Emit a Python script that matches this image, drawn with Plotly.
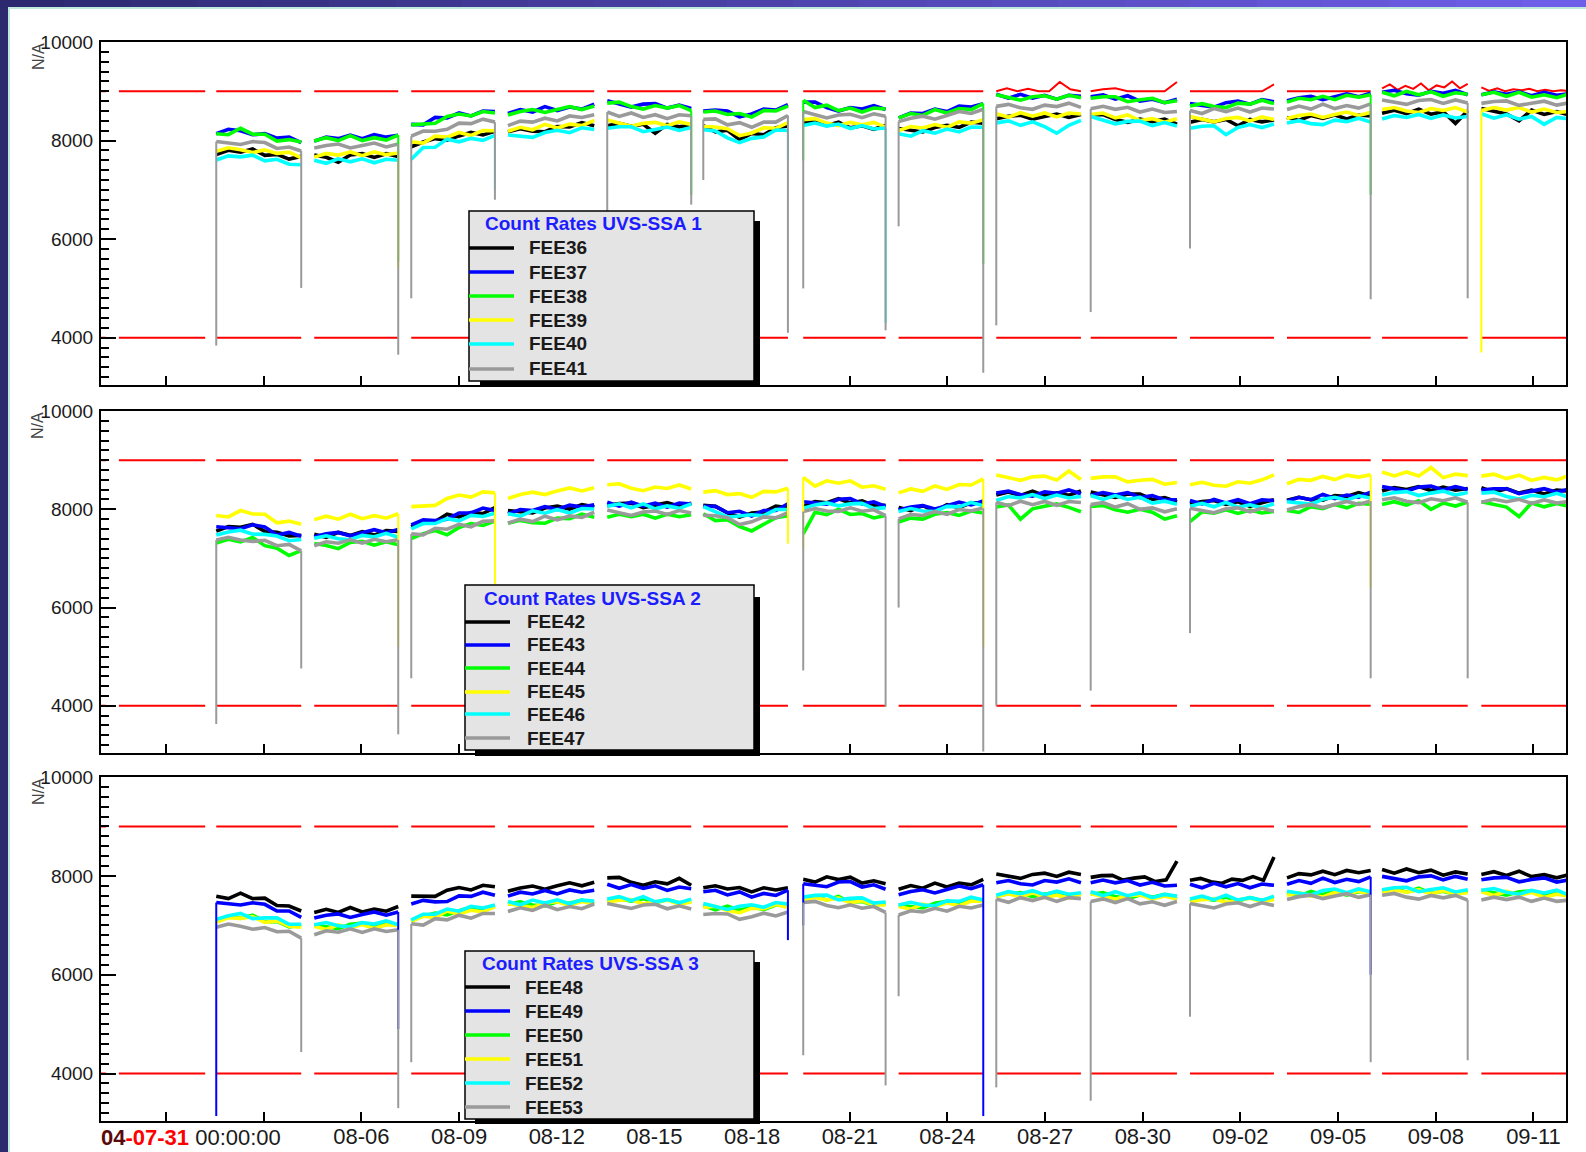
import numpy as np
import pandas as pd
import plotly.graph_objects as go

# ---------------- data ----------------
BASE = pd.Timestamp("2004-07-29 00:00:00")
X_START = "2004-07-29 00:00:00"
X_END = "2004-09-12 00:00:00"

# data taking segments (days after 2004-07-29)
SEG_START = [3.54, 6.55, 9.53, 12.50, 15.55, 18.50, 21.57, 24.50, 27.50, 30.40, 33.45, 36.43, 39.35, 42.40]
SEG_END = [6.15, 9.13, 12.10, 15.15, 18.13, 21.10, 24.10, 27.10, 30.10, 33.05, 36.03, 39.00, 41.98, 45.10]
LIMIT_START = [-2.45, 0.55] + SEG_START
LIMIT_END = [0.15, 3.20] + SEG_END

UPPER_LIMIT = 9000
LOWER_LIMIT = 4000
# limit trace of SSA 1 where it shows excursions (index into LIMIT segments)
SSA1_UPPER_EXCESS = {
    10: [9000, 9060, 9000, 9050, 9000, 9000, 9190, 9040, 9000],
    11: [9000, 9040, 9060, 9000, 9000, 9000, 9000, 9190],
    12: [9000, 9000, 9000, 9000, 9000, 9000, 9000, 9140],
    14: [9060, 9140, 9030, 9110, 9050, 9160, 9020, 9120, 9080, 9200, 9060, 9150],
    15: [9080, 9010, 9060, 9000, 9040, 9020, 9050, 9000, 9030, 9000, 9020, 9010],
}

TICK_DATES = ["2004-07-31", "2004-08-03", "2004-08-06", "2004-08-09", "2004-08-12", "2004-08-15",
              "2004-08-18", "2004-08-21", "2004-08-24", "2004-08-27", "2004-08-30", "2004-09-02",
              "2004-09-05", "2004-09-08", "2004-09-11"]
TICK_LABELS = ["", "", "08-06", "08-09", "08-12", "08-15", "08-18", "08-21", "08-24", "08-27",
               "08-30", "09-02", "09-05", "09-08", "09-11"]

SSA1_NAMES = ["FEE36", "FEE37", "FEE38", "FEE39", "FEE40", "FEE41"]
SSA2_NAMES = ["FEE42", "FEE43", "FEE44", "FEE45", "FEE46", "FEE47"]
SSA3_NAMES = ["FEE48", "FEE49", "FEE50", "FEE51", "FEE52", "FEE53"]
SSA_TITLES = ["Count Rates UVS-SSA 1", "Count Rates UVS-SSA 2", "Count Rates UVS-SSA 3"]

# ---- SSA 1 ----
FEE36 = [
    [7715, 7805, 7765, 7830, 7700, 7720, 7625, 7680],
    [7705, 7660, 7560, 7710, 7735, 7660, 7735, 7680],
    [7875, 7970, 8040, 8010, 8095, 8165, 8115, 8190],
    [8180, 8240, 8190, 8180, 8285, 8275, 8365, 8300],
    [8300, 8350, 8290, 8330, 8150, 8330, 8280, 8315],
    [8305, 8175, 8210, 8020, 8145, 8120, 8260, 8295],
    [8355, 8395, 8305, 8375, 8260, 8300, 8230, 8305],
    [8245, 8205, 8175, 8265, 8310, 8270, 8375, 8355],
    [8445, 8495, 8515, 8435, 8490, 8540, 8470, 8530],
    [8520, 8530, 8430, 8370, 8435, 8385, 8435, 8335],
    [8370, 8430, 8380, 8430, 8300, 8430, 8380, 8420],
    [8470, 8410, 8510, 8450, 8520, 8440, 8520, 8500],
    [8556, 8616, 8546, 8636, 8536, 8586, 8350, 8606],
    [8650, 8590, 8540, 8400, 8620, 8530, 8590, 8520],
]
FEE37 = [
    [8140, 8230, 8200, 8120, 8140, 8050, 8070, 7960],
    [7990, 8070, 8040, 8110, 8040, 8120, 8070, 8110],
    [8330, 8320, 8470, 8460, 8560, 8500, 8600, 8590],
    [8550, 8630, 8580, 8690, 8610, 8680, 8640, 8740],
    [8810, 8740, 8680, 8740, 8750, 8660, 8720, 8650],
    [8600, 8620, 8600, 8480, 8540, 8640, 8620, 8730],
    [8780, 8780, 8670, 8600, 8670, 8640, 8710, 8630],
    [8460, 8560, 8550, 8640, 8590, 8700, 8680, 8750],
    [8940, 8860, 8940, 8860, 8920, 8840, 8920, 8900],
    [8890, 8930, 8840, 8910, 8800, 8840, 8770, 8840],
    [8750, 8710, 8680, 8770, 8800, 8740, 8830, 8790],
    [8810, 8870, 8900, 8830, 8890, 8950, 8890, 8960],
    [8980, 9020, 8950, 8920, 9000, 8960, 9020, 8930],
    [8930, 8990, 8940, 8990, 8910, 8980, 8920, 8950],
]
FEE38 = [
    [8140, 8120, 8250, 8130, 8130, 7990, 8020, 7970],
    [7990, 8060, 8000, 8100, 8000, 8060, 8010, 8110],
    [8320, 8330, 8350, 8490, 8540, 8500, 8590, 8560],
    [8520, 8590, 8630, 8570, 8630, 8690, 8630, 8700],
    [8760, 8780, 8690, 8640, 8710, 8660, 8710, 8610],
    [8580, 8600, 8530, 8550, 8480, 8610, 8600, 8700],
    [8820, 8670, 8720, 8610, 8660, 8580, 8660, 8640],
    [8460, 8550, 8510, 8630, 8560, 8650, 8630, 8750],
    [8930, 8870, 8820, 8890, 8910, 8840, 8920, 8870],
    [8860, 8890, 8890, 8790, 8830, 8860, 8770, 8810],
    [8700, 8750, 8690, 8670, 8760, 8740, 8820, 8750],
    [8780, 8860, 8830, 8900, 8830, 8920, 8880, 8930],
    [8980, 8910, 9000, 8930, 8990, 8900, 8970, 8940],
    [8930, 8980, 8900, 8980, 8880, 8930, 8870, 8950],
]
FEE39 = [
    [7785, 7855, 7815, 7760, 7810, 7740, 7765, 7650],
    [7665, 7740, 7705, 7770, 7695, 7770, 7715, 7750],
    [7975, 7950, 8090, 8070, 8165, 8105, 8205, 8200],
    [8190, 8270, 8220, 8330, 8255, 8335, 8305, 8410],
    [8420, 8350, 8290, 8350, 8370, 8300, 8380, 8325],
    [8285, 8275, 8240, 8100, 8155, 8260, 8250, 8365],
    [8425, 8445, 8355, 8305, 8370, 8320, 8370, 8275],
    [8205, 8285, 8255, 8325, 8270, 8380, 8355, 8425],
    [8545, 8475, 8565, 8495, 8560, 8480, 8560, 8540],
    [8530, 8560, 8460, 8520, 8405, 8445, 8375, 8445],
    [8490, 8430, 8380, 8450, 8470, 8400, 8480, 8430],
    [8450, 8510, 8540, 8470, 8530, 8580, 8510, 8570],
    [8630, 8670, 8600, 8570, 8650, 8610, 8670, 8580],
    [8610, 8670, 8620, 8670, 8580, 8640, 8570, 8590],
]
FEE40 = [
    [7605, 7690, 7670, 7705, 7590, 7620, 7520, 7510],
    [7600, 7540, 7630, 7570, 7630, 7550, 7620, 7600],
    [7620, 7860, 7865, 8030, 7975, 8045, 8005, 8105],
    [8115, 8085, 8065, 8165, 8210, 8160, 8260, 8225],
    [8250, 8280, 8280, 8180, 8225, 8275, 8205, 8265],
    [8220, 8195, 8055, 7960, 8045, 8075, 8215, 8205],
    [8305, 8355, 8295, 8335, 8245, 8305, 8235, 8255],
    [8140, 8090, 8200, 8150, 8235, 8175, 8275, 8270],
    [8360, 8400, 8310, 8380, 8285, 8150, 8310, 8410],
    [8490, 8410, 8340, 8390, 8395, 8305, 8365, 8295],
    [8250, 8290, 8300, 8120, 8265, 8325, 8265, 8335],
    [8355, 8405, 8345, 8325, 8415, 8385, 8455, 8375],
    [8440, 8510, 8470, 8530, 8450, 8520, 8460, 8490],
    [8545, 8455, 8525, 8435, 8490, 8330, 8470, 8440],
]
FEE41 = [
    [7980, 7950, 7920, 7980, 7960, 7840, 7870, 7790],
    [7850, 7900, 7930, 7850, 7900, 7950, 7870, 7930],
    [8090, 8195, 8190, 8230, 8355, 8345, 8435, 8375],
    [8305, 8395, 8375, 8455, 8400, 8500, 8470, 8525],
    [8580, 8490, 8560, 8470, 8525, 8445, 8525, 8505],
    [8430, 8440, 8320, 8365, 8270, 8375, 8375, 8510],
    [8590, 8520, 8460, 8520, 8535, 8465, 8545, 8495],
    [8385, 8455, 8495, 8435, 8510, 8590, 8550, 8635],
    [8695, 8735, 8665, 8635, 8720, 8690, 8760, 8675],
    [8645, 8695, 8635, 8675, 8580, 8640, 8570, 8590],
    [8610, 8550, 8650, 8590, 8660, 8580, 8660, 8640],
    [8630, 8700, 8640, 8740, 8650, 8710, 8660, 8745],
    [8825, 8775, 8735, 8815, 8835, 8755, 8825, 8765],
    [8755, 8795, 8805, 8715, 8760, 8800, 8720, 8770],
]
# (series, segment, side, value) : single low readings at segment edges
SSA1_DROPS = [
    ("FEE41", 0, "s", 3840), ("FEE41", 0, "e", 5010), ("FEE41", 1, "e", 3655),
    ("FEE39", 1, "e", 5400), ("FEE38", 1, "e", 5550), ("FEE41", 2, "s", 4800),
    ("FEE41", 2, "e", 6800), ("FEE40", 2, "e", 7000), ("FEE41", 4, "s", 6570),
    ("FEE41", 4, "e", 6700), ("FEE38", 4, "e", 6900), ("FEE41", 5, "s", 7200),
    ("FEE41", 5, "e", 4100), ("FEE40", 5, "e", 7600), ("FEE41", 6, "s", 5000),
    ("FEE38", 6, "s", 7600), ("FEE41", 6, "e", 4150), ("FEE40", 6, "e", 4300),
    ("FEE41", 7, "s", 6260), ("FEE41", 7, "e", 3290), ("FEE38", 7, "e", 5500),
    ("FEE41", 8, "s", 4250), ("FEE41", 9, "s", 4520), ("FEE41", 10, "s", 5810),
    ("FEE41", 11, "e", 4780), ("FEE38", 11, "e", 6900), ("FEE41", 12, "e", 4800),
    ("FEE39", 13, "s", 3700),
]

# ---- SSA 2 ----
FEE42 = [
    [7555, 7650, 7635, 7695, 7550, 7535, 7460, 7470],
    [7490, 7430, 7530, 7470, 7545, 7475, 7565, 7550],
    [7645, 7765, 7750, 7900, 7845, 7935, 7915, 8035],
    [7975, 7945, 7925, 8025, 8065, 8005, 8095, 8050],
    [8075, 8115, 8125, 8035, 8085, 8135, 8065, 8125],
    [8080, 8060, 7930, 7840, 7925, 7945, 8065, 8030],
    [8065, 8155, 8135, 8215, 8130, 8170, 8080, 8080],
    [8035, 7975, 8075, 7960, 8095, 8035, 8130, 8130],
    [8290, 8350, 8280, 8370, 8275, 8335, 8285, 8375],
    [8350, 8290, 8240, 8310, 8310, 8200, 8240, 8155],
    [8110, 8160, 8180, 8100, 8155, 8060, 8135, 8195],
    [8185, 8245, 8195, 8185, 8280, 8260, 8340, 8270],
    [8372, 8442, 8402, 8462, 8382, 8452, 8392, 8422],
    [8440, 8350, 8420, 8330, 8390, 8310, 8390, 8370],
]
FEE43 = [
    [7645, 7620, 7605, 7685, 7640, 7475, 7530, 7450],
    [7440, 7500, 7530, 7460, 7525, 7585, 7525, 7590],
    [7685, 7785, 7770, 7800, 7925, 7925, 8025, 7975],
    [7905, 7995, 7975, 8055, 7995, 8085, 8045, 8090],
    [8145, 8065, 8145, 8065, 8125, 8045, 8125, 8105],
    [8060, 8060, 7930, 7960, 7865, 7975, 7975, 8110],
    [8155, 8125, 8105, 8205, 8220, 8110, 8150, 8060],
    [7985, 8045, 8075, 8005, 8075, 8145, 8090, 8170],
    [8330, 8370, 8300, 8270, 8355, 8325, 8395, 8315],
    [8280, 8340, 8290, 8340, 8240, 8280, 8190, 8195],
    [8180, 8110, 8200, 8130, 8195, 8115, 8195, 8175],
    [8165, 8245, 8195, 8305, 8220, 8290, 8250, 8350],
    [8462, 8412, 8372, 8452, 8472, 8392, 8462, 8402],
    [8390, 8420, 8420, 8320, 8370, 8420, 8350, 8410],
]
FEE44 = [
    [7315, 7390, 7335, 7425, 7260, 7210, 7060, 7160],
    [7305, 7265, 7200, 7325, 7350, 7270, 7340, 7280],
    [7405, 7505, 7570, 7480, 7630, 7710, 7670, 7760],
    [7715, 7775, 7725, 7715, 7820, 7810, 7900, 7840],
    [7840, 7900, 7850, 7900, 7820, 7900, 7850, 7890],
    [7910, 7770, 7790, 7650, 7560, 7695, 7830, 7870],
    [7500, 7940, 7890, 8000, 7895, 7915, 7825, 7875],
    [7740, 7820, 7800, 7900, 7935, 7875, 7965, 7925],
    [8050, 8090, 7800, 8010, 8060, 8110, 8040, 7950],
    [8060, 8080, 7990, 7940, 8000, 7940, 7800, 7870],
    [7750, 7950, 7920, 7990, 7915, 7985, 7925, 7955],
    [7975, 7935, 8055, 8015, 8100, 8030, 8120, 8105],
    [8096, 8156, 8086, 8176, 8000, 8126, 8066, 8146],
    [8155, 8095, 8045, 7850, 8130, 8050, 8120, 8060],
]
FEE45 = [
    [7875, 7845, 7975, 7905, 7900, 7725, 7760, 7695],
    [7790, 7860, 7800, 7900, 7810, 7870, 7820, 7910],
    [8055, 8065, 8080, 8220, 8290, 8250, 8355, 8335],
    [8220, 8300, 8350, 8300, 8375, 8435, 8375, 8440],
    [8500, 8520, 8430, 8380, 8455, 8425, 8495, 8415],
    [8350, 8380, 8300, 8320, 8245, 8365, 8355, 8430],
    [8650, 8470, 8580, 8530, 8580, 8450, 8480, 8410],
    [8335, 8415, 8365, 8475, 8405, 8505, 8495, 8620],
    [8700, 8640, 8590, 8660, 8675, 8595, 8780, 8605],
    [8630, 8660, 8660, 8560, 8590, 8610, 8510, 8545],
    [8500, 8550, 8490, 8470, 8560, 8530, 8600, 8700],
    [8520, 8610, 8590, 8670, 8605, 8695, 8655, 8705],
    [8760, 8680, 8760, 8680, 8850, 8645, 8715, 8685],
    [8675, 8715, 8625, 8695, 8590, 8650, 8600, 8690],
]
FEE46 = [
    [7475, 7540, 7575, 7495, 7490, 7455, 7360, 7385],
    [7410, 7460, 7400, 7380, 7470, 7440, 7510, 7430],
    [7600, 7710, 7710, 7810, 7765, 7875, 7855, 7920],
    [7910, 7860, 7970, 7920, 7995, 7925, 8015, 8005],
    [8060, 8110, 8030, 8110, 8010, 8070, 8020, 8110],
    [8055, 7945, 7845, 7865, 7890, 7870, 7995, 7995],
    [8020, 8090, 8130, 8070, 8110, 8120, 8015, 8035],
    [7955, 8015, 7965, 7955, 8060, 8050, 8140, 8075],
    [8180, 8260, 8230, 8300, 8220, 8290, 8230, 8260],
    [8280, 8200, 8280, 8200, 8245, 8125, 8165, 8105],
    [8062, 8122, 8052, 8142, 8042, 8092, 8032, 8112],
    [8155, 8125, 8105, 8205, 8245, 8185, 8275, 8230],
    [8290, 8340, 8360, 8280, 8330, 8370, 8290, 8340],
    [8330, 8350, 8260, 8210, 8285, 8255, 8325, 8245],
]
FEE47 = [
    [7375, 7430, 7375, 7345, 7370, 7260, 7285, 7155],
    [7260, 7340, 7310, 7380, 7310, 7390, 7340, 7380],
    [7500, 7480, 7615, 7595, 7695, 7645, 7755, 7765],
    [7720, 7800, 7750, 7860, 7785, 7865, 7835, 7940],
    [7985, 7925, 7875, 7945, 7965, 7895, 7975, 7925],
    [7880, 7870, 7830, 7690, 7745, 7845, 7825, 7930],
    [7955, 8015, 7965, 7955, 8030, 7960, 7990, 7870],
    [7805, 7895, 7875, 7955, 7895, 7995, 7965, 8025],
    [8145, 8075, 8165, 8095, 8160, 8080, 8160, 8140],
    [8095, 8135, 8045, 8115, 8000, 8030, 7950, 8010],
    [8020, 7970, 7930, 8010, 8030, 7950, 8020, 7960],
    [7985, 8055, 8095, 8035, 8100, 8160, 8100, 8170],
    [8194, 8234, 8164, 8134, 8214, 8174, 8234, 8144],
    [8145, 8205, 8155, 8205, 8120, 8190, 8130, 8160],
]
SSA2_DROPS = [
    ("FEE47", 0, "s", 3630), ("FEE47", 0, "e", 4760), ("FEE47", 1, "e", 3420),
    ("FEE45", 1, "e", 5200), ("FEE47", 2, "s", 4560), ("FEE45", 2, "e", 6470),
    ("FEE45", 5, "e", 7300), ("FEE47", 6, "s", 4720), ("FEE45", 6, "s", 7200),
    ("FEE47", 6, "e", 3980), ("FEE47", 7, "s", 6000), ("FEE47", 7, "e", 3070),
    ("FEE45", 7, "e", 5200), ("FEE47", 8, "s", 4000), ("FEE47", 9, "s", 4310),
    ("FEE47", 10, "s", 5480), ("FEE47", 11, "e", 4560), ("FEE45", 11, "e", 6400),
    ("FEE47", 12, "e", 4560),
]

# ---- SSA 3 ----
FEE48 = [
    [7590, 7540, 7650, 7540, 7550, 7400, 7390, 7290],
    [7260, 7325, 7260, 7360, 7270, 7330, 7285, 7380],
    [7590, 7585, 7585, 7710, 7765, 7715, 7810, 7780],
    [7690, 7755, 7795, 7730, 7800, 7860, 7800, 7870],
    [7960, 7970, 7870, 7810, 7880, 7840, 7950, 7810],
    [7760, 7800, 7735, 7765, 7675, 7760, 7715, 7760],
    [7930, 7875, 7980, 7925, 7975, 7855, 7900, 7840],
    [7730, 7805, 7750, 7855, 7775, 7855, 7820, 7930],
    [8040, 7990, 7950, 8030, 8055, 7990, 8075, 8030],
    [7970, 8005, 8010, 7915, 7955, 7980, 7885, 7920, 8300],
    [7910, 7950, 7880, 7850, 7935, 7910, 7985, 7910, 8380],
    [7960, 8045, 8020, 8095, 8025, 8110, 8065, 8110],
    [8130, 8055, 8140, 8065, 8115, 8015, 8080, 8040],
    [8030, 8085, 8010, 8095, 7985, 8025, 7960, 8030],
]
FEE49 = [
    [7460, 7430, 7410, 7455, 7425, 7290, 7290, 7160],
    [7150, 7205, 7230, 7160, 7220, 7270, 7205, 7270],
    [7430, 7505, 7475, 7480, 7595, 7585, 7670, 7610],
    [7590, 7670, 7635, 7705, 7635, 7715, 7670, 7710],
    [7830, 7750, 7825, 7745, 7800, 7705, 7775, 7740],
    [7680, 7710, 7615, 7675, 7570, 7645, 7605, 7710],
    [7840, 7805, 7780, 7875, 7885, 7775, 7820, 7730],
    [7620, 7685, 7720, 7655, 7725, 7795, 7740, 7820],
    [7860, 7905, 7840, 7815, 7905, 7875, 7940, 7860],
    [7860, 7915, 7860, 7905, 7815, 7870, 7795, 7810],
    [7830, 7760, 7850, 7780, 7845, 7760, 7835, 7810],
    [7830, 7905, 7850, 7955, 7865, 7930, 7885, 7980],
    [7990, 7940, 7900, 7980, 8000, 7920, 7990, 7930],
    [7920, 7960, 7970, 7880, 7925, 7960, 7875, 7920],
]
FEE50 = [
    [7100, 7185, 7140, 7205, 7070, 7080, 6970, 7000],
    [7010, 6965, 6930, 7020, 7045, 6975, 7050, 7000],
    [7090, 7185, 7245, 7210, 7295, 7365, 7310, 7390],
    [7430, 7475, 7410, 7390, 7475, 7445, 7510, 7430],
    [7480, 7540, 7490, 7540, 7455, 7520, 7455, 7480],
    [7400, 7315, 7390, 7305, 7375, 7315, 7410, 7410],
    [7550, 7595, 7510, 7585, 7465, 7485, 7400, 7450],
    [7410, 7375, 7350, 7445, 7485, 7435, 7530, 7500],
    [7590, 7640, 7660, 7580, 7630, 7670, 7590, 7640],
    [7630, 7660, 7580, 7540, 7615, 7570, 7625, 7530],
    [7480, 7550, 7510, 7570, 7490, 7560, 7500, 7530],
    [7650, 7590, 7685, 7625, 7695, 7610, 7685, 7660],
    [7700, 7750, 7670, 7750, 7645, 7690, 7625, 7700],
    [7710, 7655, 7610, 7680, 7695, 7605, 7670, 7600],
]
FEE51 = [
    [7060, 7155, 7140, 7175, 7060, 7090, 6980, 6960],
    [6980, 6915, 7010, 6950, 7015, 6935, 7010, 6990],
    [7080, 7185, 7155, 7290, 7225, 7305, 7270, 7380],
    [7440, 7395, 7360, 7450, 7475, 7405, 7480, 7430],
    [7470, 7510, 7520, 7430, 7475, 7510, 7425, 7470],
    [7360, 7385, 7300, 7255, 7345, 7335, 7420, 7360],
    [7510, 7565, 7510, 7555, 7455, 7495, 7410, 7410],
    [7380, 7325, 7430, 7375, 7455, 7395, 7490, 7490],
    [7580, 7640, 7570, 7660, 7560, 7610, 7550, 7630],
    [7640, 7580, 7530, 7600, 7615, 7530, 7595, 7530],
    [7470, 7520, 7540, 7460, 7510, 7550, 7470, 7520],
    [7610, 7660, 7595, 7575, 7665, 7630, 7695, 7610],
    [7660, 7720, 7670, 7720, 7635, 7700, 7635, 7660],
    [7680, 7605, 7690, 7610, 7665, 7565, 7630, 7590],
]
FEE52 = [
    [7120, 7195, 7240, 7135, 7150, 7150, 7020, 7020],
    [7010, 7055, 6990, 6970, 7055, 7025, 7090, 7010],
    [7110, 7225, 7225, 7330, 7285, 7385, 7350, 7410],
    [7480, 7415, 7510, 7450, 7515, 7435, 7510, 7490],
    [7530, 7580, 7500, 7580, 7475, 7520, 7455, 7530],
    [7440, 7375, 7320, 7385, 7415, 7365, 7460, 7430],
    [7570, 7605, 7610, 7515, 7545, 7555, 7450, 7470],
    [7410, 7465, 7410, 7395, 7495, 7485, 7570, 7510],
    [7610, 7680, 7640, 7700, 7620, 7690, 7630, 7660],
    [7680, 7600, 7680, 7600, 7655, 7560, 7625, 7590],
    [7530, 7590, 7520, 7610, 7510, 7560, 7505, 7590],
    [7690, 7650, 7615, 7705, 7735, 7660, 7735, 7680],
    [7720, 7760, 7770, 7680, 7725, 7760, 7675, 7720],
    [7710, 7745, 7670, 7630, 7705, 7655, 7710, 7610],
]
FEE53 = [
    [6960, 7025, 6980, 6920, 6955, 6870, 6880, 6740],
    [6810, 6890, 6860, 6930, 6855, 6930, 6875, 6910],
    [7030, 7005, 7135, 7110, 7205, 7145, 7240, 7240],
    [7280, 7355, 7300, 7405, 7315, 7380, 7335, 7430],
    [7440, 7385, 7340, 7410, 7425, 7335, 7395, 7330],
    [7220, 7240, 7230, 7120, 7175, 7245, 7190, 7270],
    [7460, 7485, 7400, 7355, 7415, 7345, 7380, 7260],
    [7210, 7295, 7270, 7345, 7285, 7385, 7350, 7410],
    [7530, 7465, 7560, 7500, 7565, 7485, 7560, 7540],
    [7480, 7535, 7460, 7540, 7435, 7475, 7405, 7480],
    [7440, 7390, 7350, 7430, 7455, 7380, 7455, 7400],
    [7520, 7580, 7610, 7540, 7595, 7640, 7565, 7620],
    [7610, 7645, 7570, 7530, 7605, 7555, 7605, 7510],
    [7510, 7570, 7520, 7570, 7485, 7550, 7485, 7510],
]
SSA3_DROPS = [
    ("FEE49", 0, "s", 3140), ("FEE53", 0, "e", 4435), ("FEE53", 1, "e", 3300),
    ("FEE49", 1, "e", 4900), ("FEE53", 2, "s", 4230), ("FEE49", 5, "e", 6700),
    ("FEE53", 6, "s", 4370), ("FEE49", 6, "s", 7000), ("FEE53", 6, "e", 3760),
    ("FEE53", 7, "s", 5565), ("FEE49", 7, "e", 3140), ("FEE53", 8, "s", 3720),
    ("FEE53", 9, "s", 3450), ("FEE53", 10, "s", 5150), ("FEE53", 11, "e", 4230),
    ("FEE49", 11, "e", 6000), ("FEE53", 12, "e", 4270),
]

# ---------------- styling ----------------
SERIES_COLORS = ["#000000", "#0000ff", "#00ff00", "#ffff00", "#00ffff", "#9a9a9a"]
FONT = "Liberation Sans, Arial, Helvetica, sans-serif"
W, H = 1586, 1152
L, R, T, B = 101, 20, 42, 31
PW, PH = W - L - R, H - T - B


def pxx(x):
    return (x - L) / PW


def pxy(y):
    return (H - B - y) / PH


def day_to_str(d):
    return (BASE + pd.Timedelta(days=float(d))).strftime("%Y-%m-%d %H:%M:%S")


def build(segments, starts, ends):
    xs, ys = [], []
    for k, vals in enumerate(segments):
        t = np.linspace(starts[k], ends[k], len(vals))
        xs += [day_to_str(d) for d in t] + [None]
        ys += list(vals) + [None]
    return xs, ys


def build_drops(segments, drops):
    # vertical strokes from the edge reading of a segment to the low reading
    xs, ys = [], []
    for (k, side), val in drops.items():
        t = SEG_START[k] if side == "s" else SEG_END[k]
        edge = segments[k][0] if side == "s" else segments[k][-1]
        xs += [day_to_str(t), day_to_str(t), None]
        ys += [edge, val, None]
    return xs, ys


PANELS = [
    (SSA1_NAMES, [FEE36, FEE37, FEE38, FEE39, FEE40, FEE41], SSA1_DROPS, SSA1_UPPER_EXCESS),
    (SSA2_NAMES, [FEE42, FEE43, FEE44, FEE45, FEE46, FEE47], SSA2_DROPS, {}),
    (SSA3_NAMES, [FEE48, FEE49, FEE50, FEE51, FEE52, FEE53], SSA3_DROPS, {}),
]
# panel pixel boxes (top, bottom)
PANEL_PX = [(42, 385), (411, 753), (777, 1121)]

fig = go.Figure()
for p, (names, series, drops, excess) in enumerate(PANELS):
    xa = "x" if p == 0 else f"x{p + 1}"
    ya = "y" if p == 0 else f"y{p + 1}"
    upper = [excess.get(k, [UPPER_LIMIT, UPPER_LIMIT]) for k in range(len(LIMIT_START))]
    lower = [[LOWER_LIMIT, LOWER_LIMIT] for _ in range(len(LIMIT_START))]
    for segs in (upper, lower):
        lx, ly = build(segs, LIMIT_START, LIMIT_END)
        fig.add_trace(go.Scatter(x=lx, y=ly, mode="lines", xaxis=xa, yaxis=ya,
                                 line=dict(color="#ff0000", width=2), showlegend=False,
                                 hoverinfo="skip", connectgaps=False))
    for i, name in enumerate(names):
        sx, sy = build(series[i], SEG_START, SEG_END)
        fig.add_trace(go.Scatter(x=sx, y=sy, mode="lines", name=name, xaxis=xa, yaxis=ya,
                                 line=dict(color=SERIES_COLORS[i], width=3.6),
                                 showlegend=False, connectgaps=False))
    for i, name in enumerate(names):
        dd = {(k, side): val for (n, k, side, val) in drops if n == name}
        if not dd:
            continue
        dx, dy = build_drops(series[i], dd)
        fig.add_trace(go.Scatter(x=dx, y=dy, mode="lines", name=name, xaxis=xa, yaxis=ya,
                                 line=dict(color=SERIES_COLORS[i], width=2),
                                 showlegend=False, connectgaps=False))

layout = dict(
    width=W, height=H, margin=dict(l=L, r=R, t=T, b=B, autoexpand=False),
    paper_bgcolor="white", plot_bgcolor="white", showlegend=False,
    font=dict(family=FONT, color="#1a1a1a"),
)
for p in range(3):
    top, bot = PANEL_PX[p]
    xkey = "xaxis" if p == 0 else f"xaxis{p + 1}"
    ykey = "yaxis" if p == 0 else f"yaxis{p + 1}"
    ya = "y" if p == 0 else f"y{p + 1}"
    xa = "x" if p == 0 else f"x{p + 1}"
    layout[xkey] = dict(
        domain=[0, 1], anchor=ya, type="date", range=[X_START, X_END],
        tickmode="array", tickvals=TICK_DATES, ticktext=TICK_LABELS,
        showticklabels=(p == 2), ticks="inside", ticklen=9, tickwidth=1.5, tickcolor="black",
        showline=True, linecolor="black", linewidth=2, mirror=True,
        showgrid=False, zeroline=False, automargin=False,
        tickfont=dict(family=FONT, size=22, color="#1a1a1a"), ticklabelstandoff=-5,
    )
    layout[ykey] = dict(
        domain=[pxy(bot), pxy(top)], anchor=xa, range=[3040, 10001],
        tickmode="linear", tick0=0, dtick=2000, tickformat="d",
        ticks="inside", ticklen=15, tickwidth=1.5, tickcolor="black",
        minor=dict(ticks="inside", ticklen=8, dtick=200, tick0=0, tickcolor="black",
                   tickwidth=1.5, showgrid=False),
        showline=True, linecolor="black", linewidth=2, mirror=True,
        showgrid=False, zeroline=False, automargin=False,
        tickfont=dict(family=FONT, size=19, color="#1a1a1a"), ticklabelstandoff=2,
    )
fig.update_layout(**layout)

shapes = []
annotations = []

# page frame (purple border of the slide)
shapes.append(dict(type="rect", xref="paper", yref="paper", x0=pxx(-2), x1=pxx(8),
                   y0=pxy(H + 2), y1=pxy(-2), fillcolor="#2e2a6e", line=dict(width=0), layer="above"))
shapes.append(dict(type="rect", xref="paper", yref="paper", x0=pxx(8), x1=pxx(10),
                   y0=pxy(H + 2), y1=pxy(7), fillcolor="#bfe9dc", line=dict(width=0), layer="above"))
NSTEP = 24
c0, c1 = (45, 41, 112), (110, 94, 232)
for s in range(NSTEP):
    f = s / (NSTEP - 1)
    col = "rgb(%d,%d,%d)" % tuple(int(round(a + (b - a) * f)) for a, b in zip(c0, c1))
    shapes.append(dict(type="rect", xref="paper", yref="paper",
                       x0=pxx(-2 + s * (W + 4) / NSTEP), x1=pxx(-2 + (s + 1) * (W + 4) / NSTEP + 1),
                       y0=pxy(7), y1=pxy(-2), fillcolor=col, line=dict(width=0), layer="above"))
shapes.append(dict(type="rect", xref="paper", yref="paper", x0=pxx(8), x1=pxx(W + 2),
                   y0=pxy(9), y1=pxy(7), fillcolor="#bfe9dc", line=dict(width=0), layer="above"))

# y-axis titles
for p, (top, bot) in enumerate(PANEL_PX):
    annotations.append(dict(text="N/A", xref="paper", yref="paper", x=pxx(38), y=pxy(top + 15),
                            textangle=-90, showarrow=False, xanchor="center", yanchor="middle",
                            font=dict(family=FONT, size=16, color="#444444")))

# time offset label
annotations.append(dict(
    text="<b><span style='color:#5a0a0a'>04</span><span style='color:#ff0000'>-07-31</span></b>"
         "<span style='color:#1a1a1a'> 00:00:00</span>",
    xref="paper", yref="paper", x=pxx(99), y=pxy(1137), xanchor="left", yanchor="middle",
    showarrow=False, font=dict(family=FONT, size=22)))

# legends (drawn boxes)
LEG_GEOM = [
    dict(box=(469, 211, 754, 381), shadow=(480, 221, 760, 387), title=(483, 223),
         rows=[248, 272, 296, 320, 344, 369], sample=(469, 514), tx=527),
    dict(box=(465, 585, 754, 750), shadow=(475, 597, 760, 756), title=(482, 598),
         rows=[622, 645, 668, 692, 714, 738], sample=(465, 510), tx=525),
    dict(box=(465, 951, 754, 1119), shadow=(475, 962, 760, 1124), title=(480, 963),
         rows=[987, 1011, 1035, 1059, 1083, 1107], sample=(465, 510), tx=523),
]
for p, g in enumerate(LEG_GEOM):
    names = PANELS[p][0]
    sx0, sy0, sx1, sy1 = g["shadow"]
    shapes.append(dict(type="rect", xref="paper", yref="paper", x0=pxx(sx0), x1=pxx(sx1),
                       y0=pxy(sy1), y1=pxy(sy0), fillcolor="black", line=dict(width=0), layer="above"))
    bx0, by0, bx1, by1 = g["box"]
    shapes.append(dict(type="rect", xref="paper", yref="paper", x0=pxx(bx0), x1=pxx(bx1),
                       y0=pxy(by1), y1=pxy(by0), fillcolor="#e4e4e4",
                       line=dict(color="black", width=1.5), layer="above"))
    annotations.append(dict(text="<b>%s</b>" % SSA_TITLES[p], xref="paper", yref="paper",
                            x=pxx(g["title"][0]), y=pxy(g["title"][1]), xanchor="left",
                            yanchor="middle", showarrow=False,
                            font=dict(family=FONT, size=19, color="#1c1cff")))
    for i, name in enumerate(names):
        yy = g["rows"][i]
        shapes.append(dict(type="line", xref="paper", yref="paper", x0=pxx(g["sample"][0]),
                           x1=pxx(g["sample"][1]), y0=pxy(yy), y1=pxy(yy),
                           line=dict(color=SERIES_COLORS[i], width=3.5), layer="above"))
        annotations.append(dict(text="<b>%s</b>" % name, xref="paper", yref="paper",
                                x=pxx(g["tx"]), y=pxy(yy), xanchor="left", yanchor="middle",
                                showarrow=False, font=dict(family=FONT, size=19, color="#1a1a1a")))

fig.update_layout(shapes=shapes, annotations=annotations)
fig.write_html("out.html")
